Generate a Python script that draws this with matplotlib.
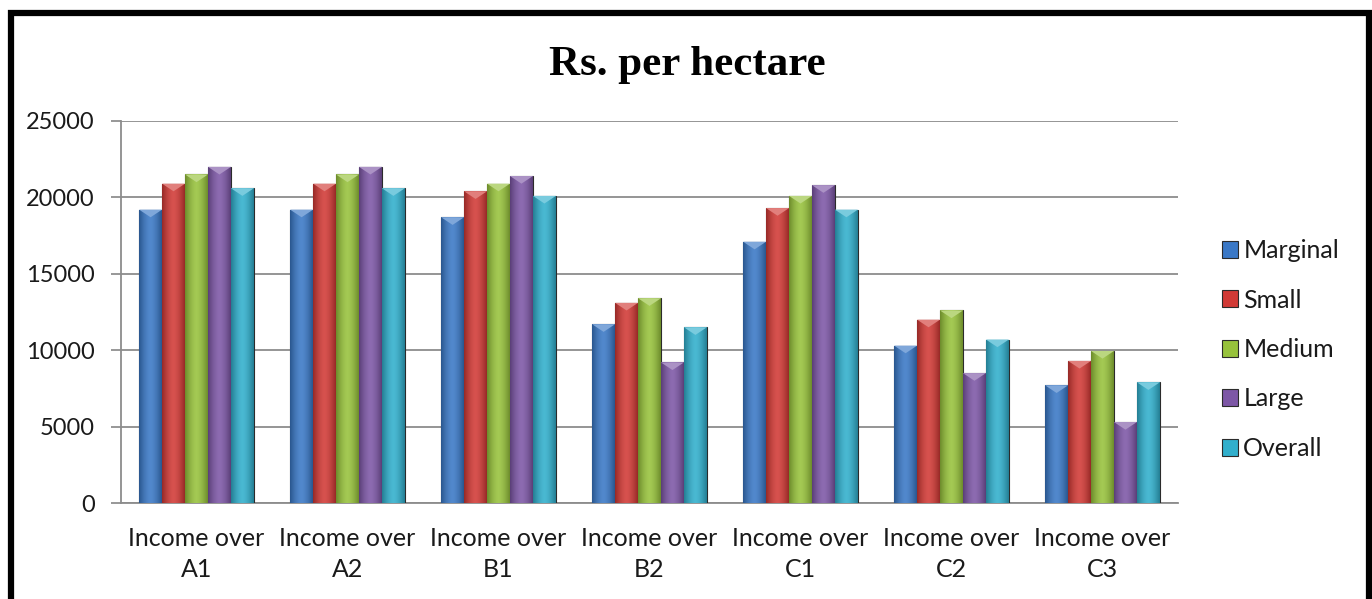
import numpy as np
import matplotlib
matplotlib.use("Agg")
import matplotlib.pyplot as plt
from matplotlib.colors import to_rgb
from matplotlib.patches import Rectangle

categories = ["Income over\nA1", "Income over\nA2", "Income over\nB1", "Income over\nB2",
              "Income over\nC1", "Income over\nC2", "Income over\nC3"]
series_names = ["Marginal", "Small", "Medium", "Large", "Overall"]
marginal = [19200, 19200, 18700, 11700, 17100, 10300, 7700]
small = [20900, 20900, 20400, 13100, 19300, 12000, 9300]
medium = [21500, 21500, 20900, 13400, 20100, 12600, 9950]
large = [22000, 22000, 21400, 9200, 20800, 8500, 5300]
overall = [20600, 20600, 20100, 11500, 19200, 10700, 7900]
yticks = [0, 5000, 10000, 15000, 20000, 25000]

series = [marginal, small, medium, large, overall]
colors = ["#3a78c6", "#d13a36", "#97c23c", "#7d57a6", "#31afcc"]

FONT = ["Lato", "DejaVu Sans"]
TXT = "#1a1a1a"

fig = plt.figure(figsize=(13.72, 5.99), dpi=100)
ax = fig.add_axes([121/1372, 1 - 503/599, (1178-121)/1372, (503-121)/599])

x = np.arange(len(categories))
w = 0.152
n = len(series)

def shade(c, f):
    r = np.array(to_rgb(c))
    if f >= 0:
        return tuple(r + (1 - r) * f)
    return tuple(r * (1 + f))

grad_x = np.linspace(-1, 1, 64)
handles = []
for i, (vals, col) in enumerate(zip(series, colors)):
    offs = x + (i - (n - 1) / 2) * w
    bars = ax.bar(offs, vals, width=w, color=col, edgecolor="#2b2b2b",
                  linewidth=0.8, zorder=3, label=series_names[i])
    handles.append(bars)
    c_dark = np.array(shade(col, -0.28))
    c_light = np.array(shade(col, 0.12))
    t = 1 - np.abs(grad_x) ** 1.6
    img = (c_dark[None, :] * (1 - t[:, None]) + c_light[None, :] * t[:, None])[None, :, :]
    for b in bars:
        bx, bw, bh = b.get_x(), b.get_width(), b.get_height()
        im = ax.imshow(img, extent=(bx, bx + bw, 0, bh), aspect="auto",
                       zorder=3.5, interpolation="bilinear")
        im.set_clip_path(b)
        ax.fill([bx, bx + bw, bx + bw / 2], [bh, bh, bh - 500],
                color=shade(col, 0.35), zorder=3.6, linewidth=0)

ax.set_xlim(-0.5, len(categories) - 0.5)
ax.set_ylim(0, 25000)
ax.set_yticks(yticks)
ax.set_yticklabels([str(v) for v in yticks], fontfamily=FONT, fontsize=17, color=TXT)
ax.set_xticks(x)
ax.set_xticklabels(categories, fontfamily=FONT, fontsize=18, color=TXT,
                   linespacing=1.45)
ax.tick_params(axis="x", length=0, pad=17)
ax.tick_params(axis="y", length=7, width=1.2, color="#868686", pad=12)
ax.grid(axis="y", color="#8c8c8c", linewidth=1.3, zorder=0)
ax.set_axisbelow(True)
for s in ["top", "right"]:
    ax.spines[s].set_visible(False)
for s in ["left", "bottom"]:
    ax.spines[s].set_color("#8c8c8c")
    ax.spines[s].set_linewidth(1.3)

fig.text(687/1372, 1 - 75/599, "Rs. per hectare", ha="center", va="baseline",
         fontfamily=["Liberation Serif", "DejaVu Serif"], fontweight="bold", fontsize=31)

leg = fig.legend(handles=handles, labels=series_names, loc="upper left",
                 bbox_to_anchor=(1212/1372, 1 - 229/599), frameon=False,
                 prop={"family": FONT, "size": 18}, handlelength=0.65, handleheight=0.65,
                 handletextpad=0.2, labelspacing=1.06, borderaxespad=0, labelcolor=TXT)

# outer black border (left, top, right)
fig.add_artist(Rectangle((10.5/1372, -0.05), (1368.5-10.5)/1372, 1.05 - 12.5/599,
                         transform=fig.transFigure, fill=False, edgecolor="black",
                         linewidth=4.5, zorder=10))

fig.savefig("out.png", dpi=100)
